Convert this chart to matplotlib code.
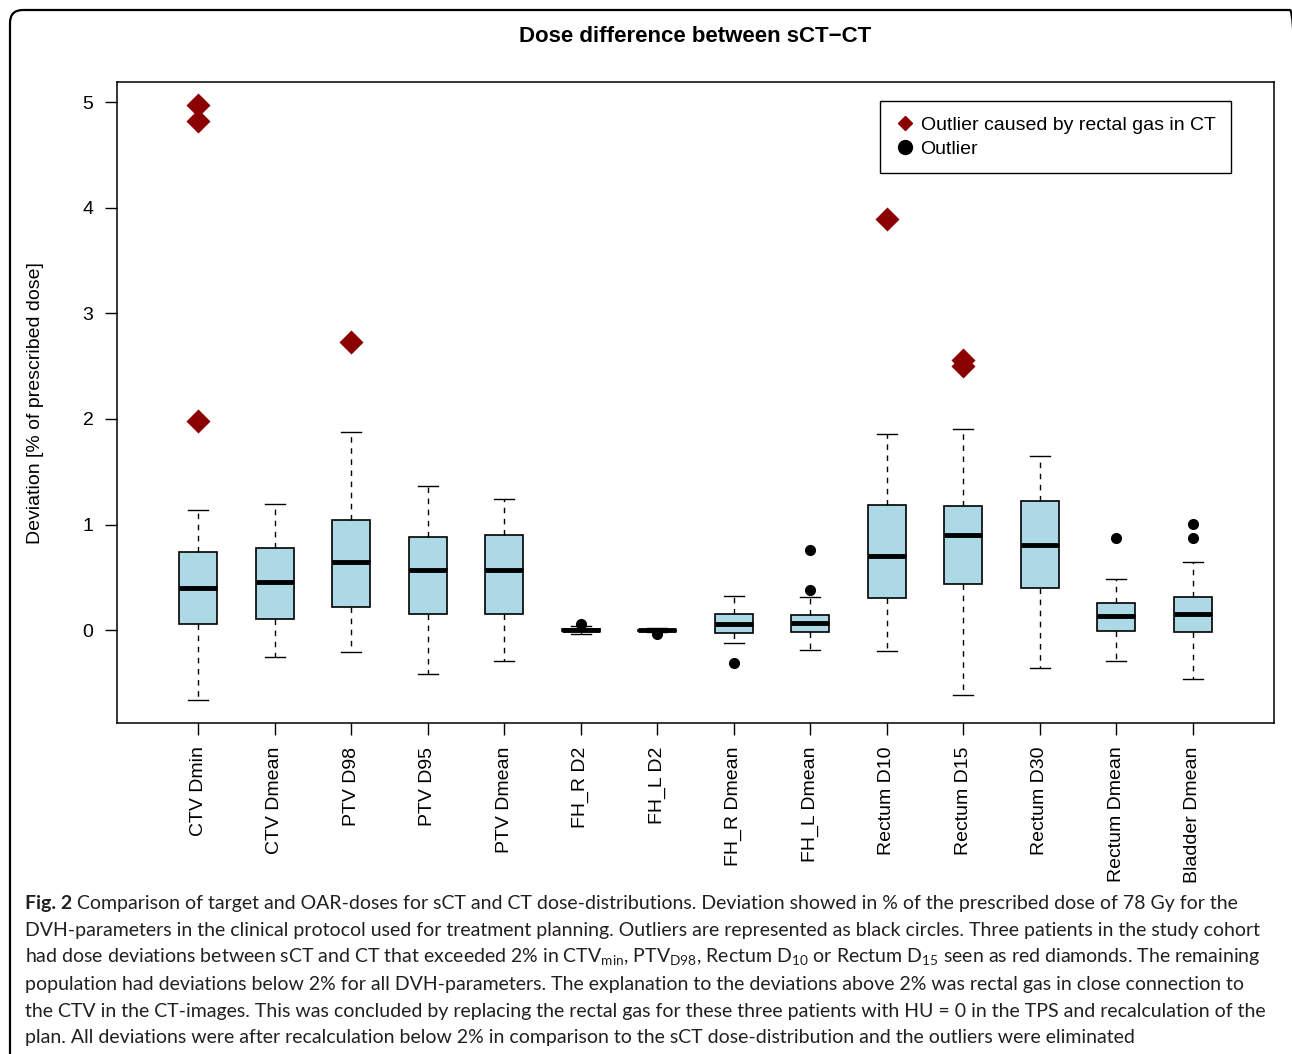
import matplotlib
matplotlib.use("Agg")
import matplotlib.pyplot as plt
from matplotlib.patches import FancyBboxPatch
from matplotlib.lines import Line2D

# parameters shown on the x axis
labels = ["CTV Dmin", "CTV Dmean", "PTV D98", "PTV D95", "PTV Dmean",
          "FH_R D2", "FH_L D2", "FH_R Dmean", "FH_L Dmean",
          "Rectum D10", "Rectum D15", "Rectum D30", "Rectum Dmean", "Bladder Dmean"]

# box statistics (% of prescribed dose)
whislo = [-0.66, -0.25, -0.21, -0.41, -0.29, -0.036, -0.015, -0.124, -0.19,
          -0.197, -0.616, -0.358, -0.294, -0.459]
q1 = [0.059, 0.109, 0.22, 0.156, 0.153, -0.008, -0.006, -0.027, -0.014,
      0.307, 0.434, 0.402, -0.005, -0.014]
med = [0.396, 0.453, 0.648, 0.573, 0.573, 0.0, 0.0, 0.062, 0.068,
       0.705, 0.901, 0.803, 0.134, 0.156]
q3 = [0.743, 0.781, 1.04, 0.882, 0.904, 0.008, 0.006, 0.15, 0.141,
      1.187, 1.175, 1.219, 0.257, 0.311]
whishi = [1.137, 1.197, 1.878, 1.361, 1.241, 0.037, 0.024, 0.32, 0.311,
          1.859, 1.906, 1.648, 0.484, 0.645]
outliers = [[], [], [], [], [], [0.056], [-0.036], [-0.313], [0.38, 0.759],
            [], [], [], [0.869], [1.005, 0.872]]

# outliers caused by rectal gas (box index, value)
gas_idx = [1, 1, 1, 3, 10, 11, 11]
gas_val = [4.97, 4.82, 1.98, 2.73, 3.89, 2.56, 2.50]

caption = [
    r"Comparison of target and OAR-doses for sCT and CT dose-distributions. Deviation showed in % of the prescribed dose of 78 Gy for the",
    r"DVH-parameters in the clinical protocol used for treatment planning. Outliers are represented as black circles. Three patients in the study cohort",
    r"had dose deviations between sCT and CT that exceeded 2% in CTV$_{\mathrm{min}}$, PTV$_{\mathrm{D98}}$, Rectum D$_{\mathrm{10}}$ or Rectum D$_{\mathrm{15}}$ seen as red diamonds. The remaining",
    r"population had deviations below 2% for all DVH-parameters. The explanation to the deviations above 2% was rectal gas in close connection to",
    r"the CTV in the CT-images. This was concluded by replacing the rectal gas for these three patients with HU = 0 in the TPS and recalculation of the",
    r"plan. All deviations were after recalculation below 2% in comparison to the sCT dose-distribution and the outliers were eliminated",
]

plt.rcParams['font.family'] = ['Liberation Sans', 'DejaVu Sans']
plt.rcParams['mathtext.fontset'] = 'custom'
plt.rcParams['mathtext.rm'] = 'Lato'

W, H = 1292, 1054
fig = plt.figure(figsize=(W / 100, H / 100), dpi=100)
ax = fig.add_axes([117 / W, 1 - 723 / H, (1274 - 117) / W, (723 - 82) / H])

stats = []
for i in range(len(labels)):
    stats.append(dict(whislo=whislo[i], q1=q1[i], med=med[i], q3=q3[i],
                      whishi=whishi[i], fliers=outliers[i], label=labels[i]))

pos = list(range(1, len(labels) + 1))
ax.bxp(stats, positions=pos, widths=0.5, patch_artist=True, showfliers=True,
       boxprops=dict(facecolor='#ADD8E6', edgecolor='black', linewidth=1.2),
       medianprops=dict(color='black', linewidth=3.5, solid_capstyle='butt'),
       whiskerprops=dict(color='black', linestyle=(0, (4, 4)), linewidth=1.0),
       capprops=dict(color='black', linewidth=1.0),
       capwidths=0.26,
       flierprops=dict(marker='o', markerfacecolor='black', markeredgecolor='black',
                       markersize=7))

ax.scatter(gas_idx, gas_val, marker='D', s=150, color='#8B0000', zorder=5, linewidths=0)

ax.set_xlim(-0.06, 15.06)
ax.set_ylim(-0.878, 5.19)
ax.set_yticks([0, 1, 2, 3, 4, 5])
ax.set_yticklabels(['0', '1', '2', '3', '4', '5'])
ax.set_xticks(pos)
ax.set_xticklabels(labels, rotation=90, va='top')
ax.tick_params(axis='both', direction='out', length=8.5, width=1, labelsize=14, pad=8.5)
for s in ax.spines.values():
    s.set_linewidth(1.1)

fig.text(695 / W, 1 - 36 / H, "Dose difference between sCT\u2212CT", fontsize=16,
         fontweight='bold', ha='center', va='center')
fig.text(36 / W, 1 - 403 / H, "Deviation [% of prescribed dose]", rotation=90,
         ha='center', va='center', fontsize=14)

handles = [Line2D([], [], marker='D', color='#8B0000', linestyle='none', markersize=7),
           Line2D([], [], marker='o', color='black', linestyle='none', markersize=10)]
ax.legend(handles, ["Outlier caused by rectal gas in CT", "Outlier"],
          loc='upper right', bbox_to_anchor=(0.9628, 0.9704), borderaxespad=0,
          fancybox=False, edgecolor='black', framealpha=1, fontsize=14,
          handletextpad=0.3, handlelength=1.0, labelspacing=0.3,
          borderpad=0.8)

# caption
fs = 14
y0 = 904
for k, line in enumerate(caption):
    yy = 1 - (y0 + k * 26.8) / H
    if k == 0:
        t = fig.text(25 / W, yy, "Fig. 2", fontsize=fs, fontweight='bold',
                     family='Lato', va='center', color='#231F20')
        fig.canvas.draw()
        bb = t.get_window_extent()
        fig.text((bb.x1 + 5) / W, yy, line, fontsize=fs, family='Lato',
                 va='center', color='#231F20')
    else:
        fig.text(25 / W, yy, line, fontsize=fs, family='Lato', va='center',
                 color='#231F20')

# rounded frame around the figure
frame = FancyBboxPatch((0.1, -0.5), 12.93, 10.94, boxstyle="round,pad=0,rounding_size=0.13",
                       transform=fig.dpi_scale_trans, facecolor='none',
                       edgecolor='black', linewidth=1.6, clip_on=False)
fig.add_artist(frame)

fig.savefig("out.png", dpi=100)
